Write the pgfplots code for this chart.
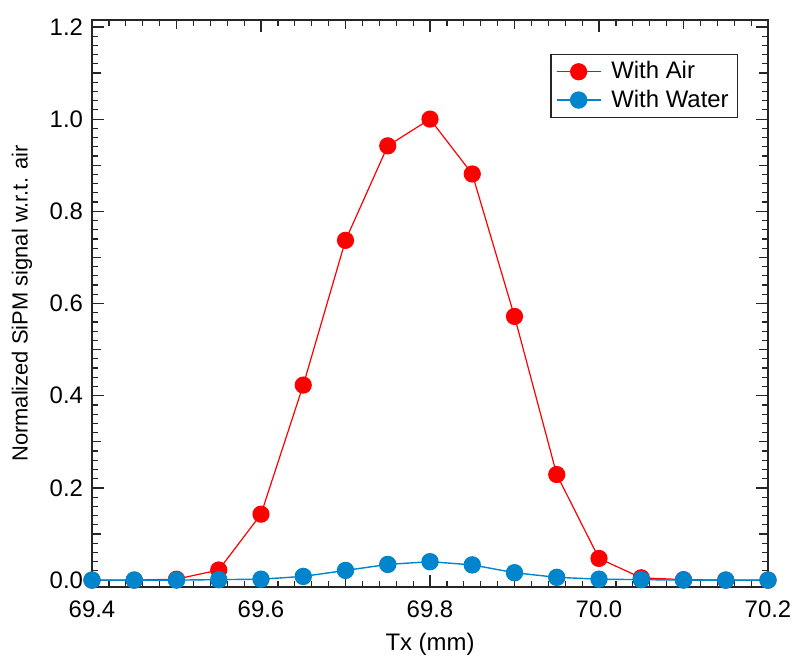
\documentclass[border=0pt]{standalone}
\usepackage{fontspec}
\setmainfont{Liberation Sans}
\usepackage{pgfplots}
\pgfplotsset{compat=1.18}
\definecolor{airred}{RGB}{255,0,0}
\definecolor{waterblue}{RGB}{0,132,204}
\pgfplotstableread{
x y
69.40 0.000
69.45 0.000
69.50 0.002
69.55 0.022
69.60 0.143
69.65 0.423
69.70 0.737
69.75 0.942
69.80 1.000
69.85 0.881
69.90 0.572
69.95 0.229
70.00 0.047
70.05 0.005
70.10 0.001
70.15 0.000
70.20 0.000
}\airdata
\pgfplotstableread{
x y
69.40 0.000
69.45 0.000
69.50 0.000
69.55 0.001
69.60 0.002
69.65 0.008
69.70 0.021
69.75 0.034
69.80 0.040
69.85 0.033
69.90 0.016
69.95 0.006
70.00 0.002
70.05 0.001
70.10 0.000
70.15 0.000
70.20 0.000
}\waterdata
\begin{document}
\begin{tikzpicture}
\begin{axis}[
  scale only axis,
  width=338bp, height=283.5bp,
  xmin=69.4, xmax=70.2, ymin=-0.015, ymax=1.215,
  clip=false,
  font=\fontsize{12}{14.4}\selectfont,
  axis line style={line width=0.8bp, black!85},
  every tick/.style={black!85, line width=0.6bp},
  tick align=inside,
  xtick={69.4,69.6,...,70.2},
  ytick={0,0.2,...,1.2},
  minor x tick num=9, minor y tick num=9,
  major tick length=6bp, minor tick length=3.2bp,
  extra x ticks={69.5,69.7,69.9,70.1},
  extra x tick labels={},
  extra y ticks={0.1,0.3,0.5,0.7,0.9,1.1},
  extra y tick labels={},
  extra tick style={major tick length=4.5bp},
  /pgf/number format/assume math mode=true,
  xticklabel style={yshift=-3.5bp, /pgf/number format/.cd, fixed, fixed zerofill, precision=1},
  yticklabel style={xshift=-1bp, /pgf/number format/.cd, fixed, fixed zerofill, precision=1},
  scaled ticks=false,
  xlabel={Tx (mm)},
  ylabel={Normalized SiPM signal w.r.t. air},
  every axis x label/.style={at={(rel axis cs:0.5,0)}, yshift=-28.5bp, anchor=center},
  every axis y label/.style={at={(rel axis cs:0,0.5)}, xshift=-35bp, anchor=center, rotate=90,
    font=\fontsize{11}{13.2}\selectfont},
  legend style={at={(0.956,0.940)}, anchor=north east, draw=black!85, line width=0.6bp,
    font=\fontsize{12}{14.4}\selectfont, inner xsep=2.5bp, inner ysep=1.5bp},
  legend cell align=left,
  legend image code/.code={
    \draw[#1, mark repeat=2, mark phase=2] plot coordinates {(0bp,0bp) (11bp,0bp) (22bp,0bp)};
    \path (0bp,0bp) (25bp,0bp);
  },
]
\addplot[airred, line width=0.6bp, mark=*, mark size=4bp, mark options={solid, fill=airred, draw=airred}] table[x=x,y=y] {\airdata};
\addlegendentry{With Air}
\addplot[waterblue, line width=0.7bp, mark=*, mark size=4bp, mark options={solid, fill=waterblue, draw=waterblue}] table[x=x,y=y] {\waterdata};
\addlegendentry{With Water}
\coordinate (sw) at (rel axis cs:0,0);
\coordinate (ne) at (rel axis cs:1,1);
\end{axis}
\pgfresetboundingbox
\path ([xshift=-46bp,yshift=-36bp]sw) rectangle ([xshift=12bp,yshift=10bp]ne);
\end{tikzpicture}
\end{document}
